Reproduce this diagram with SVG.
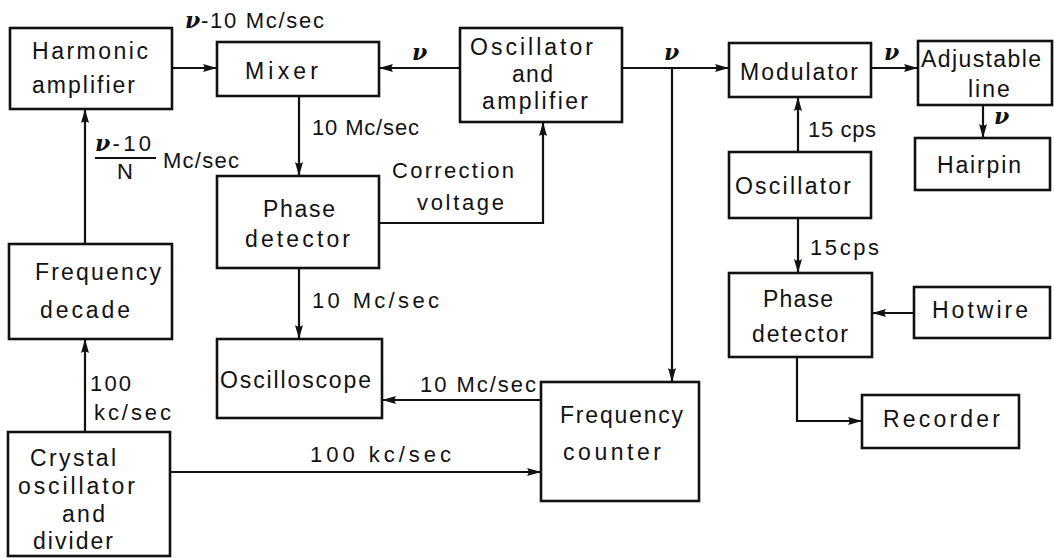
<svg xmlns="http://www.w3.org/2000/svg" width="1054" height="558" viewBox="0 0 1054 558">
<style>
.box{fill:#fff;stroke:#111;stroke-width:2.6}
.ln{fill:none;stroke:#111;stroke-width:2.2}
text{font-family:"Liberation Sans",Arial,sans-serif;font-size:23px;fill:#111;letter-spacing:2px}
.l{font-size:22px;letter-spacing:1px}
.nu{font-family:"DejaVu Serif","Liberation Serif",serif;font-style:italic;font-weight:bold;letter-spacing:0}
</style>
<defs>
<marker id="ah" viewBox="0 0 14 9" refX="14" refY="4.5" markerWidth="14" markerHeight="9" orient="auto" markerUnits="userSpaceOnUse">
<path d="M0,0.5 L14,4.5 L0,8.5 Q3,4.5 0,0.5 Z" fill="#111"/>
</marker>
</defs>
<rect width="1054" height="558" fill="#fff"/>
<g id="connectors">
<path class="ln" d="M172,68 H217" marker-end="url(#ah)"/>
<path class="ln" d="M460,68 H379" marker-end="url(#ah)"/>
<path class="ln" d="M622,68 H729" marker-end="url(#ah)"/>
<path class="ln" d="M672,68 V382" marker-end="url(#ah)"/>
<path class="ln" d="M299,96 V176" marker-end="url(#ah)"/>
<path class="ln" d="M379,223 H543 V122" marker-end="url(#ah)"/>
<path class="ln" d="M299,268 V339" marker-end="url(#ah)"/>
<path class="ln" d="M541,400 H382" marker-end="url(#ah)"/>
<path class="ln" d="M170,472 H541" marker-end="url(#ah)"/>
<path class="ln" d="M85,432 V339" marker-end="url(#ah)"/>
<path class="ln" d="M85,244 V109" marker-end="url(#ah)"/>
<path class="ln" d="M871,68 H918" marker-end="url(#ah)"/>
<path class="ln" d="M983,105 V138" marker-end="url(#ah)"/>
<path class="ln" d="M798,152 V97" marker-end="url(#ah)"/>
<path class="ln" d="M798,218 V273" marker-end="url(#ah)"/>
<path class="ln" d="M914,313 H872" marker-end="url(#ah)"/>
<path class="ln" d="M797,357 V421 H862" marker-end="url(#ah)"/>
<text class="l" x="185" y="28" textLength="140"><tspan class="nu">ν</tspan>-10 Mc/sec</text>
<text class="l nu" x="412" y="60">ν</text>
<text class="l nu" x="664" y="60">ν</text>
<text class="l nu" x="884" y="60">ν</text>
<text class="l nu" x="994" y="124">ν</text>
<text class="l" x="312" y="135" textLength="108">10 Mc/sec</text>
<text class="l" x="95" y="151" textLength="57"><tspan class="nu">ν</tspan>-10</text>
<path class="ln" d="M95,158 H156" stroke-width="1.8"/>
<text class="l" x="117" y="179">N</text>
<text class="l" x="163" y="168" textLength="77">Mc/sec</text>
<text class="l" x="392" y="178" textLength="123">Correction</text>
<text class="l" x="417" y="210" textLength="88">voltage</text>
<text class="l" x="312" y="308" textLength="128">10 Mc/sec</text>
<text class="l" x="420" y="392" textLength="117">10 Mc/sec</text>
<text class="l" x="310" y="462" textLength="142">100 kc/sec</text>
<text class="l" x="90" y="391" textLength="42">100</text>
<text class="l" x="94" y="420" textLength="78">kc/sec</text>
<text class="l" x="808" y="137" textLength="69">15 cps</text>
<text class="l" x="810" y="255" textLength="70">15cps</text>
</g>
<g id="harmonic"><rect class="box" x="10" y="28" width="162" height="81"/><text x="32" y="59" textLength="118">Harmonic</text><text x="32" y="93" textLength="105">amplifier</text></g>
<g id="mixer"><rect class="box" x="217" y="42" width="162" height="54"/><text x="245" y="79" textLength="75">Mixer</text></g>
<g id="oscamp"><rect class="box" x="460" y="28" width="162" height="94"/><text x="470" y="55" textLength="125">Oscillator</text><text x="512" y="82" textLength="43">and</text><text x="482" y="109" textLength="108">amplifier</text></g>
<g id="modulator"><rect class="box" x="729" y="43" width="142" height="54"/><text x="740" y="80" textLength="120">Modulator</text></g>
<g id="adjline"><rect class="box" x="918" y="41" width="134" height="64"/><text x="921" y="67" textLength="122">Adjustable</text><text x="968" y="97" letter-spacing="1">line</text></g>
<g id="hairpin"><rect class="box" x="915" y="138" width="135" height="52"/><text x="937" y="173" textLength="86">Hairpin</text></g>
<g id="oscillator"><rect class="box" x="729" y="152" width="142" height="66"/><text x="735" y="194" textLength="118">Oscillator</text></g>
<g id="pd2"><rect class="box" x="729" y="273" width="143" height="84"/><text x="763" y="307" textLength="72">Phase</text><text x="752" y="342" textLength="98">detector</text></g>
<g id="hotwire"><rect class="box" x="914" y="287" width="136" height="51"/><text x="932" y="318" textLength="98">Hotwire</text></g>
<g id="recorder"><rect class="box" x="862" y="395" width="157" height="53"/><text x="883" y="427" textLength="119">Recorder</text></g>
<g id="pd1"><rect class="box" x="217" y="176" width="162" height="92"/><text x="263" y="217" textLength="74">Phase</text><text x="245" y="247" textLength="107">detector</text></g>
<g id="oscilloscope"><rect class="box" x="217" y="339" width="165" height="79"/><text x="220" y="388" textLength="153">Oscilloscope</text></g>
<g id="counter"><rect class="box" x="541" y="382" width="158" height="119"/><text x="560" y="423" textLength="125">Frequency</text><text x="563" y="460" textLength="100">counter</text></g>
<g id="decade"><rect class="box" x="9" y="244" width="163" height="95"/><text x="35" y="280" textLength="128">Frequency</text><text x="40" y="318" textLength="92">decade</text></g>
<g id="crystal"><rect class="box" x="8" y="432" width="162" height="124"/><text x="30" y="466" textLength="88">Crystal</text><text x="18" y="494" textLength="119">oscillator</text><text x="62" y="522" textLength="45">and</text><text x="33" y="549" textLength="82">divider</text></g>
</svg>
